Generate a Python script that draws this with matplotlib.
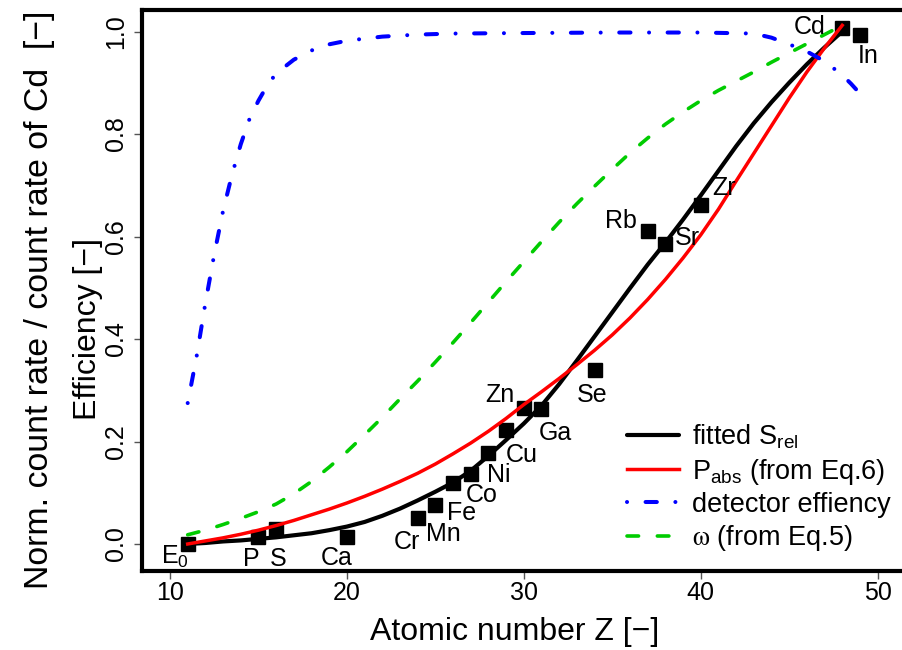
import numpy as np
import matplotlib
matplotlib.use("Agg")
import matplotlib.pyplot as plt

plt.rcParams['font.family'] = ['Liberation Sans', 'DejaVu Sans']
plt.rcParams['mathtext.fontset'] = 'stix'

# measured elements (normalised to Cd)
elements = ["E0", "P", "S", "Ca", "Cr", "Mn", "Fe", "Co", "Ni", "Cu", "Zn", "Ga",
            "Se", "Rb", "Sr", "Zr", "Cd", "In"]
z_meas = [11, 15, 16, 20, 24, 25, 26, 27, 28, 29, 30, 31, 34, 37, 38, 40, 48, 49]
rel_meas = [0.0, 0.013, 0.029, 0.013, 0.050, 0.076, 0.120, 0.137, 0.177, 0.222,
            0.265, 0.263, 0.340, 0.611, 0.585, 0.661, 1.006, 0.993]

# curves
z_curve = list(range(11, 49))
s_rel = [0.000, 0.002, 0.005, 0.007, 0.010, 0.013, 0.017, 0.021, 0.027, 0.034,
         0.043, 0.055, 0.069, 0.085, 0.102, 0.120, 0.143, 0.172, 0.203, 0.235,
         0.270, 0.312, 0.358, 0.405, 0.452, 0.499, 0.545, 0.588, 0.633, 0.680,
         0.728, 0.776, 0.821, 0.862, 0.900, 0.936, 0.969, 1.000]
p_abs = [0.000, 0.006, 0.012, 0.019, 0.027, 0.036, 0.046, 0.057, 0.068, 0.080,
         0.093, 0.107, 0.122, 0.138, 0.156, 0.176, 0.197, 0.220, 0.245, 0.272,
         0.297, 0.323, 0.350, 0.378, 0.408, 0.441, 0.477, 0.516, 0.558, 0.603,
         0.653, 0.708, 0.762, 0.816, 0.870, 0.921, 0.968, 1.012]
omega = [0.018, 0.027, 0.038, 0.050, 0.063, 0.078, 0.098, 0.122, 0.150, 0.180,
         0.213, 0.247, 0.283, 0.318, 0.355, 0.393, 0.432, 0.472, 0.512, 0.551,
         0.590, 0.628, 0.664, 0.698, 0.731, 0.763, 0.792, 0.819, 0.843, 0.865,
         0.885, 0.903, 0.921, 0.940, 0.958, 0.976, 0.994, 1.012]

z_det = [11, 11.5, 12, 12.5, 13, 13.5, 14, 14.5, 15, 15.5, 16, 17, 18, 19, 20,
         22, 24, 26, 30, 35, 40, 43, 44, 45, 46, 47, 48, 48.5, 49]
det_eff = [0.275, 0.365, 0.470, 0.565, 0.650, 0.720, 0.780, 0.830, 0.865, 0.895,
           0.918, 0.945, 0.963, 0.975, 0.982, 0.990, 0.994, 0.996, 0.997, 0.998,
           0.998, 0.996, 0.988, 0.975, 0.961, 0.942, 0.915, 0.898, 0.879]

# label offsets in pixels (dx, dy) relative to the square
label_off = {
    "E0": (-13, -20), "P": (-7, -29), "S": (2, -37), "Ca": (-10, -28),
    "Cr": (-11, -31), "Mn": (8, -36), "Fe": (9, -37), "Co": (11, -28),
    "Ni": (10, -29), "Cu": (16, -32), "Zn": (-24, 6), "Ga": (14, -31),
    "Se": (-2, -32), "Rb": (-27, 3), "Sr": (22, -1), "Zr": (23, 10),
    "Cd": (-33, -6), "In": (8, -28),
}

W, H = 903, 650
fig = plt.figure(figsize=(W / 100, H / 100), dpi=100)
ax = fig.add_axes([142 / W, 1 - 571 / H, (906 - 142) / W, (571 - 10) / H])

ax.plot(z_meas, rel_meas, 's', color='black', markersize=9.4, zorder=2)

l1, = ax.plot(z_curve, s_rel, color='black', lw=3.0, zorder=3,
              solid_capstyle='round', solid_joinstyle='round')
l2, = ax.plot(z_curve, p_abs, color='#ff0000', lw=2.5, zorder=3,
              solid_joinstyle='round')
l3, = ax.plot(z_det, det_eff, color='#0000ff', lw=2.9, zorder=3,
              dashes=(0.01, 4.6, 2.8, 4.6), dash_capstyle='round')
l4, = ax.plot(z_curve, omega, color='#00cc00', lw=2.6, zorder=3,
              dashes=(3.2, 5.2), dash_capstyle='round')

for name, zx, yv in zip(elements, z_meas, rel_meas):
    txt = r"$\mathregular{E_0}$" if name == "E0" else name
    ax.annotate(txt, (zx, yv), xytext=label_off[name], textcoords='offset pixels',
                ha='center', va='baseline', fontsize=18, zorder=4)

ax.set_xlim(10 + (142 - 170) / 17.69, 10 + (906 - 170) / 17.69)
ax.set_ylim((544 - 571) / 512.5, (544 - 10) / 512.5)
ax.set_xticks([10, 20, 30, 40, 50])
ax.set_yticks([0.0, 0.2, 0.4, 0.6, 0.8, 1.0])
ax.set_yticklabels(["0.0", "0.2", "0.4", "0.6", "0.8", "1.0"])
ax.tick_params(axis='both', direction='out', length=6, width=1, color='#555555',
               labelsize=18)
ax.tick_params(axis='x', pad=1)
ax.tick_params(axis='y', pad=4)
for lab in ax.get_yticklabels():
    lab.set_rotation(90)
    lab.set_va('center')
for sp in ax.spines.values():
    sp.set_linewidth(3.0)

fig.text(515 / W, 1 - 632 / H, "Atomic number Z [\u2212]", ha='center',
         va='center', fontsize=23)
fig.text(40 / W, 1 - 300 / H, "Norm. count rate / count rate of Cd  [\u2212]",
         ha='center', va='center', rotation=90, fontsize=24.4)
fig.text(88 / W, 1 - 329 / H, "Efficiency [\u2212]", ha='center', va='center',
         rotation=90, fontsize=23)

leg = ax.legend([l1, l2, l3, l4],
                [r"fitted $\mathregular{S_{rel}}$",
                 r"$\mathregular{P_{abs}}$ (from Eq.6)",
                 "detector effiency",
                 r"$\mathrm{\omega}$ (from Eq.5)"],
                loc='center left', bbox_to_anchor=(627 / W, 1 - 488 / H),
                bbox_transform=fig.transFigure, frameon=False, fontsize=19.5,
                borderpad=0, borderaxespad=0, handlelength=1.93,
                handletextpad=0.47, labelspacing=0.2)

fig.savefig("out.png", dpi=100)
